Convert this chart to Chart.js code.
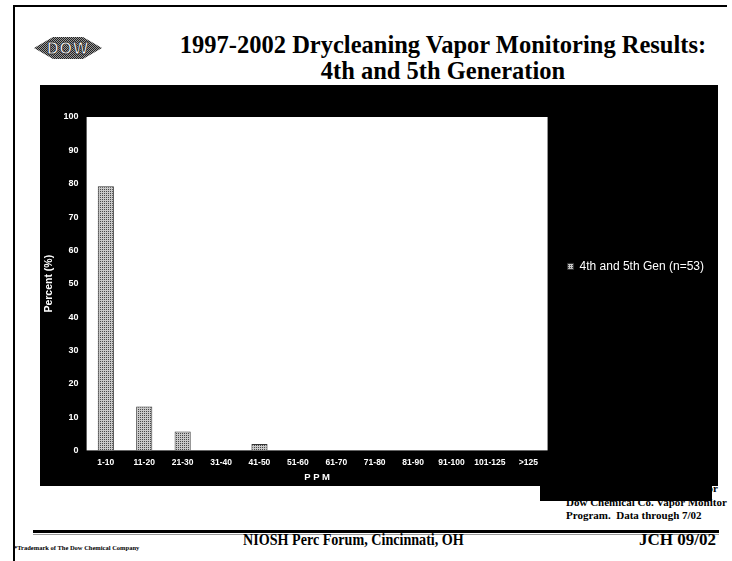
<!DOCTYPE html>
<html>
<head>
<meta charset="utf-8">
<script src="https://cdn.jsdelivr.net/npm/chart.js@4"></script>
<style>
    body { margin: 0; width: 732px; height: 561px; background: #fff; position: relative; overflow: hidden; font-family: "Liberation Serif", serif; }
    .abs { position: absolute; }
    #bordaEsq { left: 13px; top: 5px; width: 2px; height: 556px; background: #000; }
    #bordaTopo { left: 13px; top: 5px; width: 714px; height: 2px; background: #000; }
    #titulo { left: 160px; top: 32px; width: 566px; text-align: center; font-weight: bold; font-size: 24.5px; line-height: 26px; color: #000; }
    #painel { left: 40px; top: 85px; width: 678px; height: 401px; background: #000; z-index: 2; }
    #painelExtra { left: 540px; top: 480px; width: 172px; height: 21px; background: #000; z-index: 2; }
    .nota { white-space: nowrap; font-weight: bold; font-size: 11px; line-height: 13.5px; color: #000; z-index: 1; }
    #linha1 { left: 33px; top: 530px; width: 686px; height: 3px; background: #000; }
    #linha2 { left: 33px; top: 534px; width: 686px; height: 1px; background: #999; }
    #rodape { left: 243px; top: 530px; font-weight: bold; font-size: 17px; color: #000; transform: scaleX(0.83); transform-origin: left top; white-space: nowrap; }
    #jch { left: 639px; top: 530px; font-weight: bold; font-size: 17px; color: #000; }
    #marca { left: 14px; top: 544px; font-weight: bold; font-size: 6.5px; color: #000; }
</style>
</head>
<body>
<div id="bordaEsq" class="abs"></div>
<div id="bordaTopo" class="abs"></div>
<svg class="abs" style="left:33px;top:35px" width="70" height="26">
    <defs>
        <pattern id="pontos" width="2" height="2" patternUnits="userSpaceOnUse">
            <rect width="2" height="2" fill="#999"/>
            <rect width="1" height="1" fill="#222"/>
            <rect x="1" y="1" width="1" height="1" fill="#222"/>
        </pattern>
    </defs>
    <polygon points="1,13 20,2 50,2 69,13 50,24 20,24" fill="url(#pontos)"/>
    <text x="35" y="19" text-anchor="middle" font-family="Liberation Sans, sans-serif" font-weight="bold" font-size="16" fill="#fff" stroke="#333" stroke-width="0.9" letter-spacing="1">DOW</text>
</svg>
<div id="titulo" class="abs">1997-2002 Drycleaning Vapor Monitoring Results:<br>4th and 5th Generation</div>
<div id="painel" class="abs"><canvas id="graficoPpm" width="678" height="401"></canvas></div>
<div id="painelExtra" class="abs"></div>
<div class="abs nota" style="right:14px;top:482px">Source: Results from monitoring for</div>
<div class="abs nota" style="left:566px;top:496px">Dow Chemical Co. Vapor Monitor</div>
<div class="abs nota" style="left:566px;top:509px">Program.&nbsp; Data through 7/02</div>
<div id="linha1" class="abs"></div>
<div id="linha2" class="abs"></div>
<div id="rodape" class="abs">NIOSH Perc Forum, Cincinnati, OH</div>
<div id="jch" class="abs">JCH 09/02</div>
<div id="marca" class="abs">*Trademark of The Dow Chemical Company</div>

<script>
const faixasPpm = ['1-10', '11-20', '21-30', '31-40', '41-50', '51-60', '61-70', '71-80', '81-90', '91-100', '101-125', '>125'];
const percentualGeracao = [79.2, 13.2, 5.7, 0, 1.9, 0, 0, 0, 0, 0, 0, 0];
const rotuloSerie = '4th and 5th Gen (n=53)';

window.onload = function () {

    // textura pontilhada das barras
    function criarPadraoPontilhado() {
        const c = document.createElement('canvas');
        c.width = 2;
        c.height = 2;
        const ctx = c.getContext('2d');
        ctx.fillStyle = '#c8c8c8';
        ctx.fillRect(0, 0, 2, 2);
        ctx.fillStyle = '#474747';
        ctx.fillRect(0, 0, 1, 1);
        return ctx.createPattern(c, 'repeat');
    }

    const fundoBranco = {
        id: 'fundoBranco',
        beforeDraw(chart) {
            const { ctx, chartArea } = chart;
            ctx.save();
            ctx.fillStyle = '#fff';
            ctx.fillRect(chartArea.left, chartArea.top, chartArea.right - chartArea.left, chartArea.bottom - chartArea.top);
            ctx.restore();
        }
    };

    const padrao = criarPadraoPontilhado();
    const fonteEixo = { family: 'Liberation Sans, Arial, sans-serif', weight: 'bold', size: 9 };

    new Chart(document.getElementById('graficoPpm'), {
        type: 'bar',
        data: {
            labels: faixasPpm,
            datasets: [{
                label: rotuloSerie,
                data: percentualGeracao,
                backgroundColor: padrao,
                borderColor: '#333',
                borderWidth: 1,
                barPercentage: 0.42,
                categoryPercentage: 1
            }]
        },
        options: {
            responsive: false,
            animation: false,
            layout: { padding: { left: 3, top: 32, right: 4, bottom: 3 } },
            scales: {
                y: {
                    min: 0,
                    max: 100,
                    ticks: { stepSize: 10, color: '#fff', font: fonteEixo, padding: 8 },
                    grid: { display: false, drawTicks: false },
                    border: { display: false },
                    title: { display: true, text: 'Percent (%)', color: '#fff', font: { family: 'Liberation Sans, Arial, sans-serif', weight: 'bold', size: 10.5 }, padding: 0 }
                },
                x: {
                    ticks: { color: '#fff', font: { family: 'Liberation Sans, Arial, sans-serif', weight: 'bold', size: 8.5 }, padding: 7, maxRotation: 0, autoSkip: false },
                    grid: { display: false, drawTicks: false },
                    border: { display: false },
                    title: { display: true, text: 'P P M', color: '#fff', font: { family: 'Liberation Sans, Arial, sans-serif', weight: 'bold', size: 9.5 }, padding: { top: -3, bottom: 0 } }
                }
            },
            plugins: {
                legend: {
                    position: 'right',
                    align: 'start',
                    title: { display: true, text: ' ', padding: { top: 109, bottom: 0 } },
                    labels: {
                        color: '#fff',
                        boxWidth: 6,
                        boxHeight: 6,
                        padding: 20,
                        font: { family: 'Liberation Sans, Arial, sans-serif', size: 12 }
                    }
                },
                tooltip: { enabled: false }
            }
        },
        plugins: [fundoBranco]
    });
}
</script>
</body>
</html>
